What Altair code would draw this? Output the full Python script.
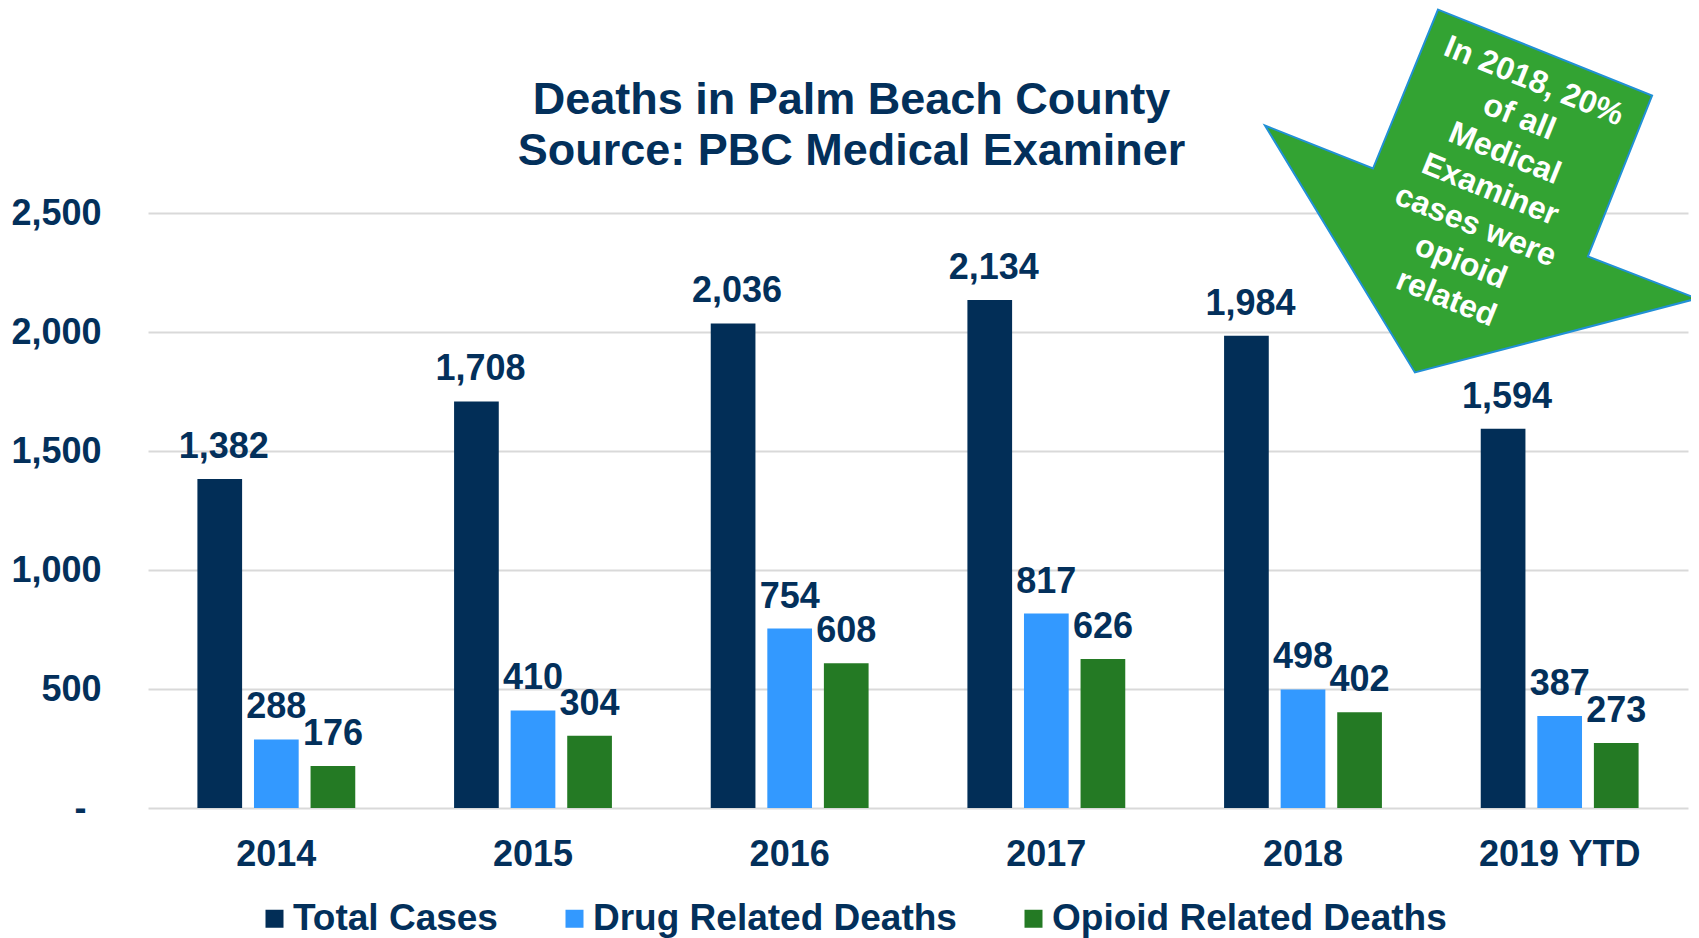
import altair as alt
import pandas as pd

# ---- data ----
years = ["2014", "2015", "2016", "2017", "2018", "2019 YTD"]
series = ["Total Cases", "Drug Related Deaths", "Opioid Related Deaths"]
total_cases = [1382, 1708, 2036, 2134, 1984, 1594]
drug_related = [288, 410, 754, 817, 498, 387]
opioid_related = [176, 304, 608, 626, 402, 273]
y_ticks = [0, 500, 1000, 1500, 2000, 2500]

title_lines = ["Deaths in Palm Beach County", "Source: PBC Medical Examiner"]
callout_lines = ["In 2018, 20%", "of all", "Medical", "Examiner", "cases were", "opioid", "related"]

# ---- styles ----
FONT = "Liberation Sans"
NAVY = "#03305B"
colors = ["#022E57", "#3399FF", "#247A24"]
ARROW_FILL = "#33A333"
ARROW_STROKE = "#2190D6"
ARROW_PATH = ("M -0.199 -0.840 L 0.792 -0.442 L 0.495 0.303 L 1 0.498 "
              "L -0.306 0.840 L -1 -0.303 L -0.5 -0.104 Z")

rows = []
for s, vals in zip(series, [total_cases, drug_related, opioid_related]):
    for yr, v in zip(years, vals):
        rows.append({"year": yr, "series": s, "value": v})
df = pd.DataFrame(rows)

x_enc = alt.X(
    "year:N", sort=years,
    scale=alt.Scale(paddingInner=0.385, paddingOuter=0.1925),
    axis=alt.Axis(title=None, labelFontSize=36, labelFontWeight="bold", labelColor=NAVY,
                  labelFont=FONT, labelPadding=29, ticks=False, domain=False, grid=False,
                  labelAngle=0, labelLimit=500),
)
xo_enc = alt.XOffset("series:N", sort=series, scale=alt.Scale(paddingInner=0.21, paddingOuter=0))
y_enc = alt.Y(
    "value:Q",
    scale=alt.Scale(domain=[0, 2500], nice=False),
    axis=alt.Axis(title=None, values=y_ticks, grid=True, gridColor="#D9D9D9", gridWidth=2,
                  domain=False, ticks=False,
                  labelPadding={"condition": {"test": "datum.value === 0", "value": 62}, "value": 47},
                  labelFontSize=36, labelFontWeight="bold", labelColor=NAVY, labelFont=FONT,
                  labelExpr="datum.value == 0 ? '-' : format(datum.value, ',')"),
)
color_enc = alt.Color(
    "series:N", sort=series,
    scale=alt.Scale(domain=series, range=colors),
    legend=alt.Legend(title=None, orient="none", legendX=108, legendY=687, direction="horizontal",
                      symbolType="square", symbolSize=324, symbolStrokeWidth=0, symbolOpacity=1,
                      labelFontSize=37, labelFont=FONT, labelFontWeight="bold", labelColor=NAVY,
                      labelOffset=0, columnPadding=58, labelLimit=600, padding=0),
)

bars = alt.Chart(df).mark_bar(opacity=1).encode(x=x_enc, xOffset=xo_enc, y=y_enc, color=color_enc)

label_style = dict(baseline="alphabetic", dy=-21, fontSize=36, fontWeight="bold", font=FONT, color=NAVY)

labels_total = alt.Chart(df).transform_filter(
    alt.datum.series == series[0]
).mark_text(dx=4, **label_style).encode(
    x=x_enc, xOffset=xo_enc, y=y_enc, text=alt.Text("value:Q", format=",")
)
labels_other = alt.Chart(df).transform_filter(
    alt.datum.series != series[0]
).mark_text(**label_style).encode(
    x=x_enc, xOffset=xo_enc, y=y_enc, text=alt.Text("value:Q", format=",")
)

title = alt.Chart(alt.Data(values=[{}])).mark_text(
    text=title_lines, fontSize=45, fontWeight="bold", font=FONT, color=NAVY,
    align="center", baseline="alphabetic", lineHeight=51
).encode(x=alt.value(703.5), y=alt.value(-99.5))

arrow = alt.Chart(alt.Data(values=[{}])).mark_point(
    shape=ARROW_PATH, size=186624, filled=True, fill=ARROW_FILL, stroke=ARROW_STROKE,
    strokeWidth=2, opacity=1
).encode(x=alt.value(1333), y=alt.value(-22))

callout = alt.Chart(alt.Data(values=[{}])).mark_text(
    text=callout_lines, fontSize=32, fontWeight="bold", font=FONT, color="white",
    align="center", baseline="middle", angle=22, lineHeight=39
).encode(x=alt.value(1386), y=alt.value(-132))

chart = alt.layer(bars, labels_total, labels_other, title, arrow, callout).properties(
    width=1540, height=595,
    padding={"left": 140, "top": 205, "right": 3, "bottom": 130},
    autosize=alt.AutoSizeParams(type="none"),
).configure_view(stroke=None)

chart.save("out.html", embed_options={"renderer": "svg", "actions": False})
